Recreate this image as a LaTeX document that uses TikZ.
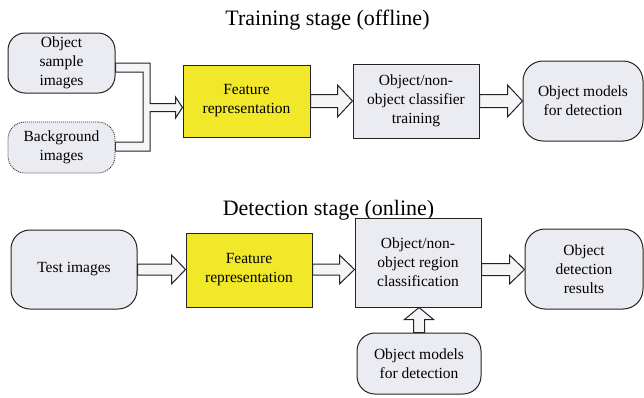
\documentclass[tikz,border=0pt]{standalone}
\usepackage{fontspec}
\setmainfont{Liberation Serif}
\usetikzlibrary{calc,backgrounds}
\definecolor{boxgray}{RGB}{235,236,242}
\definecolor{featyel}{RGB}{242,232,42}
\definecolor{edgecol}{RGB}{35,35,35}
\tikzset{
  basebox/.style={draw=edgecol, line width=1pt, align=center, inner sep=0pt,
    font=\fontsize{15.5}{19}\selectfont},
  roundbox/.style={basebox, fill=boxgray, rounded corners=17pt},
  sqbox/.style={basebox, fill=boxgray},
  featbox/.style={basebox, fill=featyel},
  barrow/.style={draw=edgecol, line width=1pt, fill=boxgray!50!white, line join=miter},
  titletext/.style={font=\fontsize{22}{26}\selectfont, anchor=base, inner sep=0pt}
}
% horizontal block arrow: from, to, y, shaft half, head half, head length
\newcommand\HArrow[6]{%
  \draw[barrow] ($(#1.east|-0,#3)+(0,-#4)$) -- ($(#2.west|-0,#3)+(-#6,-#4)$)
    -- ($(#2.west|-0,#3)+(-#6,-#5)$) -- (#2.west|-0,#3)
    -- ($(#2.west|-0,#3)+(-#6,#5)$) -- ($(#2.west|-0,#3)+(-#6,#4)$)
    -- ($(#1.east|-0,#3)+(0,#4)$) -- cycle;}
\begin{document}
\begin{tikzpicture}[x=1pt,y=-1pt]
\useasboundingbox (0,0) rectangle (644,397);

% titles
\node[titletext] (t1) at (327.5,25) {Training stage (offline)};
\node[titletext] (t2) at (328.5,215) {Detection stage (online)};

% training row
\node[roundbox, minimum width=107pt, minimum height=60pt] (osi) at (61.5,63) {Object\\sample\\images};
\node[roundbox, line width=0.8pt, dash pattern=on 1pt off 1pt, minimum width=107pt, minimum height=51pt] (bg) at (61.5,147.5) {Background\\images};
\node[featbox, minimum width=127pt, minimum height=72pt] (fr1) at (246.5,101) {Feature\\representation};
\node[sqbox, minimum width=126pt, minimum height=74pt] (cls1) at (416,101) {Object/non-\\object classifier\\training};
\node[roundbox, rounded corners=20pt, minimum width=120pt, minimum height=80pt] (om1) at (583,101) {Object models\\for detection};

% detection row
\node[roundbox, rounded corners=19pt, minimum width=126pt, minimum height=79pt] (ti) at (74,269.5) {Test images};
\node[featbox, minimum width=126pt, minimum height=74pt] (fr2) at (249,270) {Feature\\representation};
\node[sqbox, minimum width=126pt, minimum height=89pt] (cls2) at (418,262.5) {Object/non-\\object region\\classification};
\node[roundbox, rounded corners=20pt, minimum width=118pt, minimum height=80pt] (odr) at (584,269) {Object\\detection\\results};
\node[roundbox, rounded corners=18pt, minimum width=124pt, minimum height=61pt] (om2) at (419,363.5) {Object models\\for detection};

\begin{scope}[on background layer]
% merged arrow from the two sample sets
\draw[barrow] (osi.east|-0,63) -- (150,63) -- (150,103.5)
  -- ($(fr1.west|-0,103.5)+(-7,0)$) -- ($(fr1.west|-0,97)+(-7,0)$)
  -- (fr1.west|-0,107.5)
  -- ($(fr1.west|-0,118)+(-7,0)$) -- ($(fr1.west|-0,111.5)+(-7,0)$)
  -- (150,111.5) -- (150,151) -- (bg.east|-0,151) -- (bg.east|-0,142)
  -- (143,142) -- (143,72) -- (osi.east|-0,72) -- cycle;
\HArrow{fr1}{cls1}{101}{6.5}{16}{15}
\HArrow{cls1}{om1}{101}{6.5}{16}{15}
\HArrow{ti}{fr2}{269.5}{5.5}{14.5}{14}
\HArrow{fr2}{cls2}{269.5}{5.5}{14.5}{15}
\HArrow{cls2}{odr}{269.5}{6}{14.5}{15}
% up arrow
\draw[barrow] ($(om2.north)+(-5.5,0)$) -- ($(cls2.south-|om2.north)+(-5.5,12)$)
  -- ($(cls2.south-|om2.north)+(-14.5,12)$) -- (cls2.south-|om2.north)
  -- ($(cls2.south-|om2.north)+(14.5,12)$) -- ($(cls2.south-|om2.north)+(5.5,12)$)
  -- ($(om2.north)+(5.5,0)$) -- cycle;
\end{scope}
\end{tikzpicture}
\end{document}
